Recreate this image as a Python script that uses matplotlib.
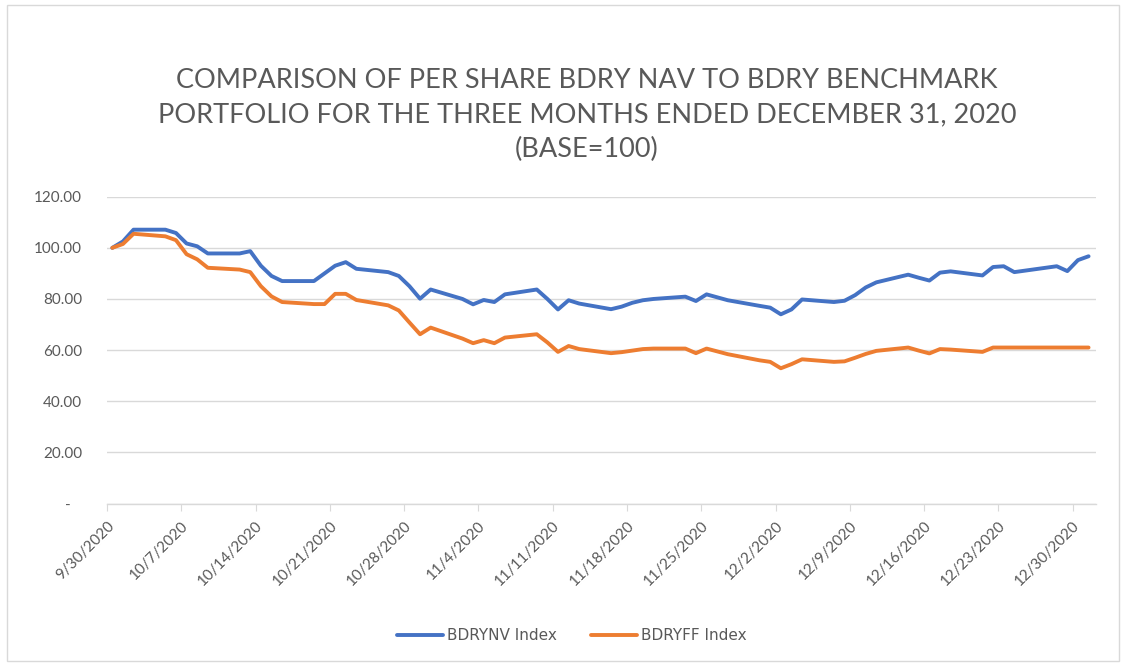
import numpy as np
import pandas as pd
import matplotlib
matplotlib.use("Agg")
import matplotlib.pyplot as plt
from matplotlib.patches import Rectangle

dates = pd.to_datetime([
    "2020-09-30", "2020-10-01", "2020-10-02", "2020-10-05", "2020-10-06", "2020-10-07",
    "2020-10-08", "2020-10-09", "2020-10-12", "2020-10-13", "2020-10-14", "2020-10-15",
    "2020-10-16", "2020-10-19", "2020-10-20", "2020-10-21", "2020-10-22", "2020-10-23",
    "2020-10-26", "2020-10-27", "2020-10-28", "2020-10-29", "2020-10-30", "2020-11-02",
    "2020-11-03", "2020-11-04", "2020-11-05", "2020-11-06", "2020-11-09", "2020-11-10",
    "2020-11-11", "2020-11-12", "2020-11-13", "2020-11-16", "2020-11-17", "2020-11-18",
    "2020-11-19", "2020-11-20", "2020-11-23", "2020-11-24", "2020-11-25", "2020-11-27",
    "2020-11-30", "2020-12-01", "2020-12-02", "2020-12-03", "2020-12-04", "2020-12-07",
    "2020-12-08", "2020-12-09", "2020-12-10", "2020-12-11", "2020-12-14", "2020-12-15",
    "2020-12-16", "2020-12-17", "2020-12-18", "2020-12-21", "2020-12-22", "2020-12-23",
    "2020-12-24", "2020-12-28", "2020-12-29", "2020-12-30", "2020-12-31",
])

bdrynv = [
    100.0, 102.5, 107.1, 107.1, 105.8, 101.7, 100.6, 97.8, 97.8, 98.7, 93.0, 89.0,
    87.0, 87.0, 90.0, 93.0, 94.4, 91.8, 90.5, 89.0, 85.0, 80.1, 83.7, 80.0,
    77.9, 79.6, 78.8, 81.8, 83.7, 80.0, 75.9, 79.5, 78.2, 76.0, 77.0, 78.5,
    79.5, 80.0, 80.9, 79.2, 81.8, 79.5, 77.3, 76.6, 74.0, 75.9, 79.8, 78.8,
    79.3, 81.5, 84.5, 86.5, 89.5, 88.3, 87.2, 90.3, 90.8, 89.2, 92.5, 92.8,
    90.5, 92.8, 90.9, 95.2, 96.7,
]

bdryff = [
    100.0, 101.5, 105.5, 104.5, 103.0, 97.5, 95.5, 92.2, 91.5, 90.5, 85.0, 81.0,
    78.8, 78.0, 78.0, 82.0, 82.0, 79.6, 77.5, 75.5, 70.8, 66.2, 68.8, 64.5,
    62.7, 63.9, 62.7, 64.9, 66.2, 63.0, 59.3, 61.6, 60.4, 58.8, 59.2, 59.8,
    60.4, 60.6, 60.6, 58.8, 60.6, 58.4, 56.0, 55.4, 52.9, 54.5, 56.4, 55.4,
    55.6, 57.0, 58.5, 59.7, 61.0, 59.8, 58.7, 60.4, 60.2, 59.3, 61.0, 61.0,
    61.0, 61.0, 61.0, 61.0, 61.0,
]

tick_dates = pd.date_range("2020-09-30", "2020-12-30", freq="7D")
series_names = ["BDRYNV Index", "BDRYFF Index"]
title = ("COMPARISON OF PER SHARE BDRY NAV TO BDRY BENCHMARK\n"
         "PORTFOLIO FOR THE THREE MONTHS ENDED DECEMBER 31, 2020\n"
         "(BASE=100)")

text_col = "#595959"
grid_col = "#d9d9d9"

fig = plt.figure(figsize=(11.24, 6.67), dpi=100)
ax = fig.add_axes([107 / 1124, 1 - 503.5 / 667, (1096 - 107) / 1124, (503.5 - 196.7) / 667])

# Excel date axis puts each point in the middle of its day
xs = dates + pd.Timedelta(hours=12)
ax.plot(xs, bdrynv, color="#4472C4", lw=2.8, solid_capstyle="round", label=series_names[0])
ax.plot(xs, bdryff, color="#ED7D31", lw=2.8, solid_capstyle="round", label=series_names[1])

ax.set_ylim(0, 120)
ax.set_yticks(np.arange(0, 121, 20))
ax.set_yticklabels(["-   "] + [f"{v:.2f}" for v in np.arange(20, 121, 20)])
ax.set_xlim(tick_dates[0], tick_dates[0] + pd.Timedelta(days=93.2))
ax.set_xticks(tick_dates)
ax.set_xticklabels([f"{d.month}/{d.day}/{d.year}" for d in tick_dates],
                   rotation=45, ha="right", va="top", rotation_mode="anchor")

ax.grid(axis="y", color=grid_col, lw=1)
ax.set_axisbelow(True)
for s in ["top", "right", "left"]:
    ax.spines[s].set_visible(False)
ax.spines["bottom"].set_color(grid_col)
ax.spines["bottom"].set_linewidth(1)
ax.tick_params(axis="y", length=0, pad=18, labelsize=11, labelcolor=text_col)
ax.tick_params(axis="x", length=5, color=grid_col, pad=6, labelsize=11, labelcolor=text_col)
for lab in ax.get_xticklabels() + ax.get_yticklabels():
    lab.set_family("Lato")

fig.text(587 / 1124, 1 - 115 / 667, title, ha="center", va="center",
         fontsize=19.5, color=text_col, family="Lato", linespacing=1.45)

leg = fig.legend(loc="center", bbox_to_anchor=(572 / 1124, 1 - 636 / 667), ncol=2,
                 frameon=False, handlelength=3.0, columnspacing=2.2, handletextpad=0.3,
                 prop={"family": "DejaVu Sans", "size": 11})
for t in leg.get_texts():
    t.set_color(text_col)

fig.patches.append(Rectangle((7 / 1124, 6 / 667), 1112 / 1124, 656 / 667,
                             transform=fig.transFigure, fill=False,
                             edgecolor=grid_col, lw=1))

fig.savefig("out.png", dpi=100)
